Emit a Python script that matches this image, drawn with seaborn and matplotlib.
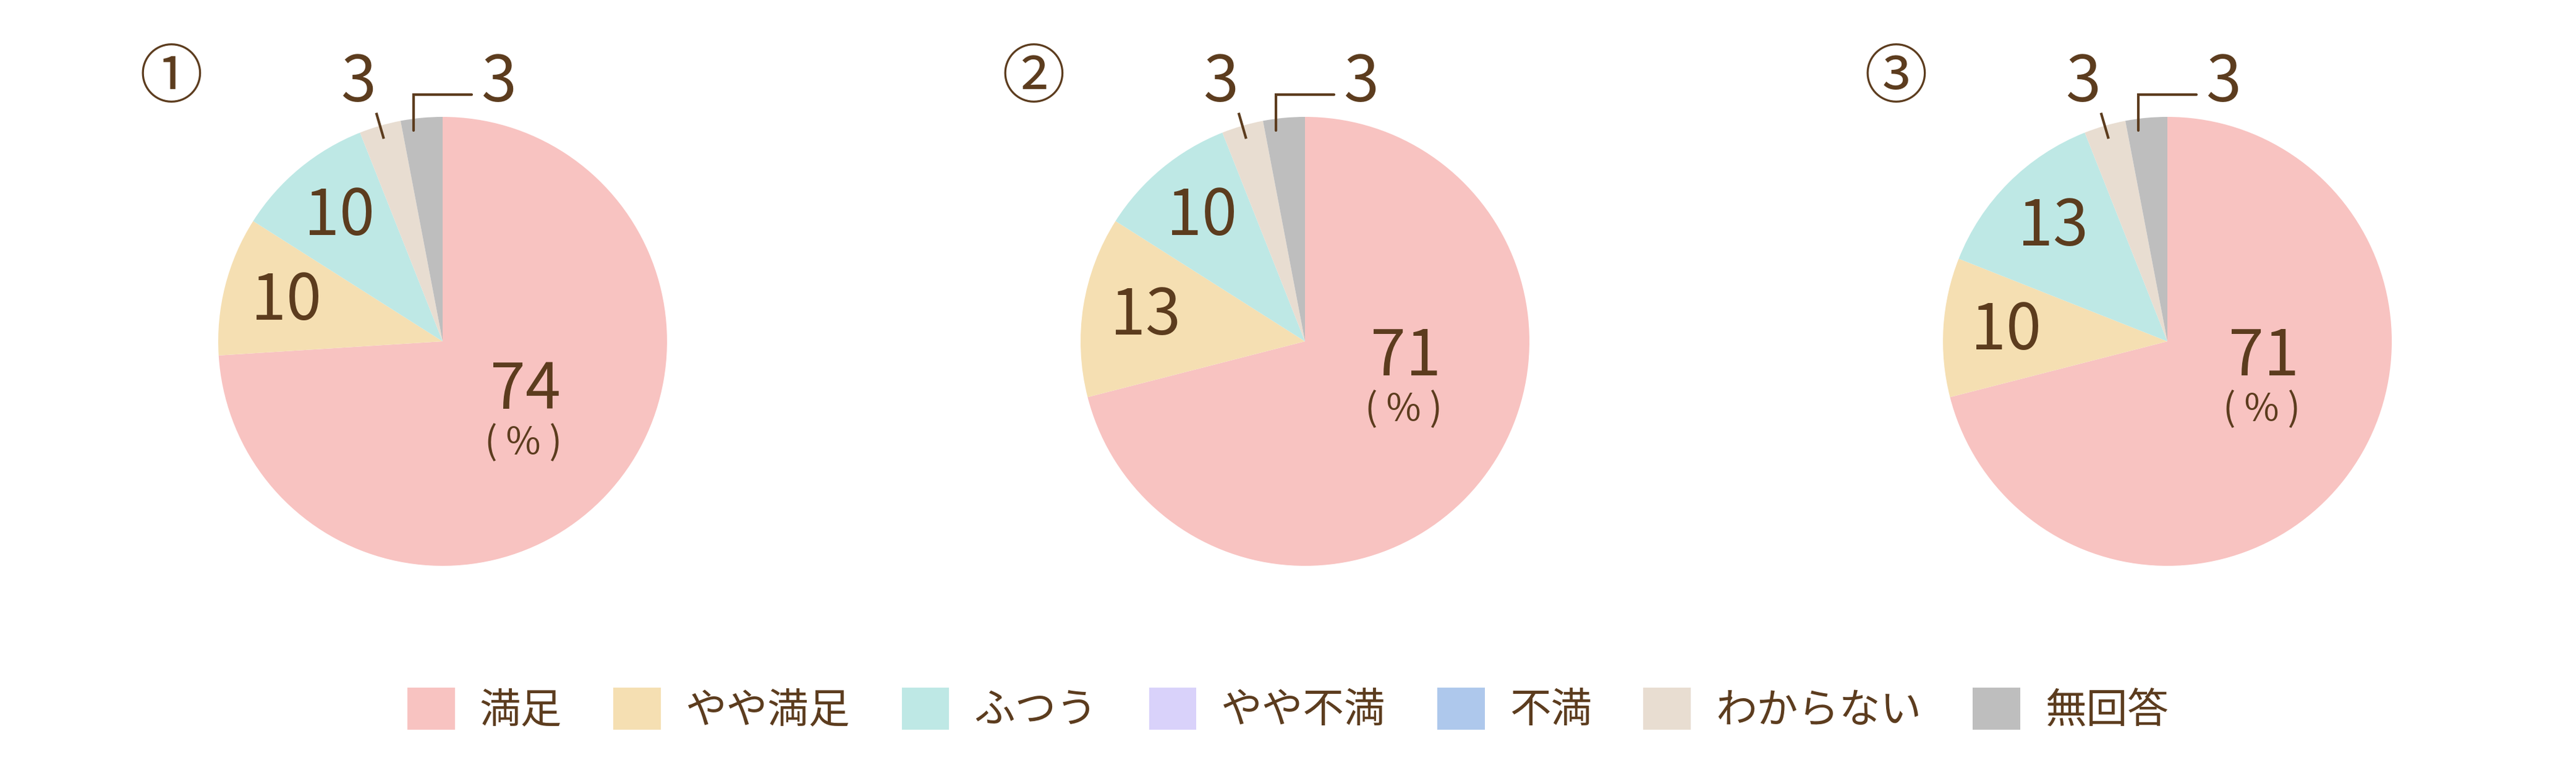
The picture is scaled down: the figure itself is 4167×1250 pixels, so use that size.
import numpy as np
import pandas as pd
import seaborn as sns
import matplotlib.pyplot as plt
from matplotlib.patches import Patch

# data
categories = ['満足', 'やや満足', 'ふつう', 'やや不満', '不満', 'わからない', '無回答']
panel_marks = ['①', '②', '③']
values_1 = [74, 10, 10, 0, 0, 3, 3]
values_2 = [71, 13, 10, 0, 0, 3, 3]
values_3 = [71, 10, 13, 0, 0, 3, 3]
colors = ['#F8C3C1', '#F5DFB2', '#BEE8E5', '#D9D2FA', '#AEC8EC', '#E8DDD1', '#BEBEBE']

df = pd.DataFrame({'category': categories, '1': values_1, '2': values_2, '3': values_3})

sns.set_theme(style='white')
plt.rcParams['font.family'] = ['Noto Sans CJK JP', 'DejaVu Sans']
text_color = '#5C3C1E'
num_size = 74

fig = plt.figure(figsize=(41.67, 12.5), dpi=100)

centers_x = [716, 2111, 3506]
center_y = 552
span = 2.8 * 363  # axes size in px covering [-1.4, 1.4]

# offsets for the large label, in radius units
main_offsets = [(0.37, -0.22), (0.45, -0.07), (0.43, -0.07)]

for i, col in enumerate(['1', '2', '3']):
    cx = centers_x[i]
    ax = fig.add_axes([(cx - span / 2) / 4167, (1250 - center_y - span / 2) / 1250,
                       span / 4167, span / 1250])
    vals = df[col].values
    wedges, _ = ax.pie(vals, colors=colors, startangle=90, counterclock=False,
                       radius=1, wedgeprops=dict(linewidth=0))
    ax.set_xlim(-1.4, 1.4)
    ax.set_ylim(-1.4, 1.4)
    ax.set_aspect('equal')
    ax.axis('off')

    # panel number
    ax.text(-1.21, 1.17, panel_marks[i], fontsize=74, color=text_color,
            ha='center', va='center')

    mids = [np.deg2rad((w.theta1 + w.theta2) / 2) for w in wedges]

    # main value
    mx, my = main_offsets[i]
    ax.text(mx, my, str(vals[0]), fontsize=num_size, color=text_color,
            ha='center', va='center')
    ax.text(mx - 0.01, my - 0.235, '( % )', fontsize=44, color=text_color,
            ha='center', va='center')

    # inner labels for mid-size slices
    for k in [1, 2]:
        a = mids[k]
        ax.text(0.72 * np.cos(a), 0.72 * np.sin(a), str(vals[k]), fontsize=num_size,
                color=text_color, ha='center', va='center')

    # small slices with leader lines
    a = mids[5]
    ax.plot([0.94 * np.cos(a), 1.06 * np.cos(a)], [0.94 * np.sin(a), 1.06 * np.sin(a)],
            color=text_color, lw=3, solid_capstyle='butt')
    ax.text(1.2 * np.cos(a + np.deg2rad(2)), 1.15, str(vals[5]), fontsize=num_size,
            color=text_color, ha='center', va='center')

    a = mids[6]
    x0 = 0.95 * np.cos(a) - 0.04
    ax.plot([x0, x0, 0.13], [0.94, 1.10, 1.10], color=text_color, lw=3,
            solid_joinstyle='miter')
    ax.text(0.25, 1.15, str(vals[6]), fontsize=num_size, color=text_color,
            ha='center', va='center')

handles = [Patch(facecolor=c, edgecolor='none', label=l) for c, l in zip(colors, categories)]
leg = fig.legend(handles=handles, loc='center', bbox_to_anchor=(0.5, 0.082), ncol=7,
                 frameon=False, fontsize=48, handlelength=1.15, handleheight=1.2,
                 handletextpad=0.6, columnspacing=1.25)
for t in leg.get_texts():
    t.set_color(text_color)

fig.savefig('out.png', dpi=100, facecolor='white')
